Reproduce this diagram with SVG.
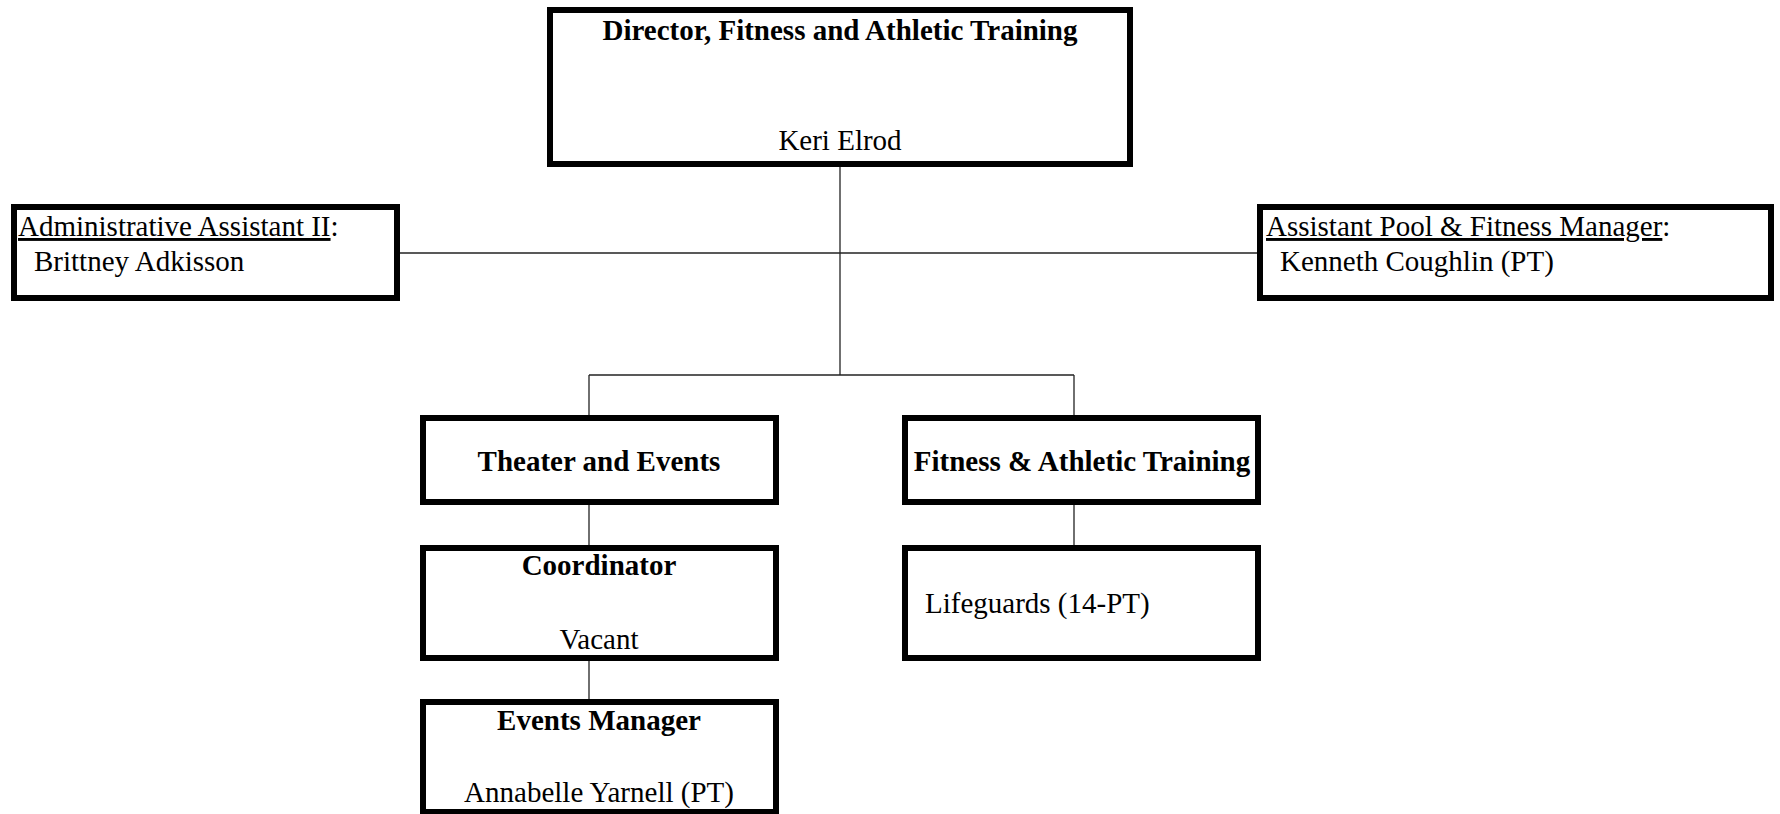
<svg xmlns="http://www.w3.org/2000/svg" width="1780" height="814" viewBox="0 0 1780 814">
<style>
.box{fill:#fff;stroke:#000;stroke-width:6}
.ln{stroke:#222;stroke-width:1.3;fill:none}
text{font-family:"Liberation Serif","Times New Roman",serif;font-size:29px;fill:#000}
.b{font-weight:bold}
.c{text-anchor:middle}
.u{text-decoration:underline}
</style>
<rect width="1780" height="814" fill="#fff"/>
<g id="connectors">
<line class="ln" x1="840" y1="167" x2="840" y2="375"/>
<line class="ln" x1="400" y1="253" x2="1257" y2="253"/>
<line class="ln" x1="589" y1="375" x2="1074" y2="375"/>
<line class="ln" x1="589" y1="375" x2="589" y2="415"/>
<line class="ln" x1="1074" y1="375" x2="1074" y2="415"/>
<line class="ln" x1="589" y1="505" x2="589" y2="545"/>
<line class="ln" x1="1074" y1="505" x2="1074" y2="545"/>
<line class="ln" x1="589" y1="661" x2="589" y2="699"/>
</g>
<g id="director">
<rect class="box" x="550" y="10" width="580" height="154"/>
<text class="b c" x="840" y="40">Director, Fitness and Athletic Training</text>
<text class="c" x="840" y="150">Keri Elrod</text>
</g>
<g id="admin">
<rect class="box" x="14" y="207" width="383" height="91"/>
<text x="18" y="236"><tspan class="u">Administrative Assistant II</tspan>:</text>
<text x="34" y="271">Brittney Adkisson</text>
</g>
<g id="assistant">
<rect class="box" x="1260" y="207" width="511" height="91"/>
<text x="1266" y="236"><tspan class="u">Assistant Pool &amp; Fitness Manager</tspan>:</text>
<text x="1280" y="271">Kenneth Coughlin (PT)</text>
</g>
<g id="theater">
<rect class="box" x="423" y="418" width="353" height="84"/>
<text class="b c" x="599" y="471">Theater and Events</text>
</g>
<g id="fitness">
<rect class="box" x="905" y="418" width="353" height="84"/>
<text class="b c" x="1082" y="471">Fitness &amp; Athletic Training</text>
</g>
<g id="coordinator">
<rect class="box" x="423" y="548" width="353" height="110"/>
<text class="b c" x="599" y="575">Coordinator</text>
<text class="c" x="599" y="649">Vacant</text>
</g>
<g id="lifeguards">
<rect class="box" x="905" y="548" width="353" height="110"/>
<text x="925" y="613">Lifeguards (14-PT)</text>
</g>
<g id="events">
<rect class="box" x="423" y="702" width="353" height="110"/>
<text class="b c" x="599" y="730">Events Manager</text>
<text class="c" x="599" y="802">Annabelle Yarnell (PT)</text>
</g>
</svg>
